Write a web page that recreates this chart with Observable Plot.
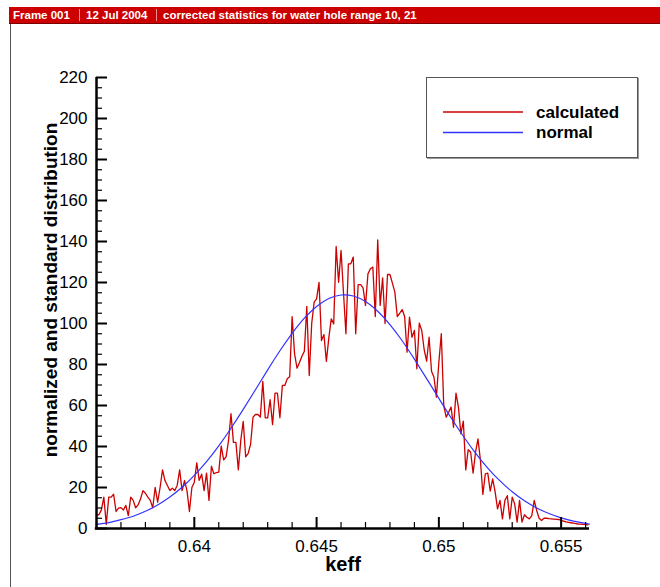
<!DOCTYPE html>
<html><head><meta charset="utf-8">
<script src="https://cdn.jsdelivr.net/npm/d3@7"></script>
<script src="https://cdn.jsdelivr.net/npm/@observablehq/plot@0.6"></script>
<style>
body{margin:0;background:#fff;width:660px;height:587px;overflow:hidden;position:relative;font-family:"Liberation Sans",Arial,sans-serif}
#chart{position:absolute;left:0;top:0}
#bar{position:absolute;left:9px;top:7px;width:651px;height:16px;background:#cc0000;border-bottom:1px solid #7a0000;color:#fff;font-weight:bold;font-size:11.5px;line-height:16px;white-space:nowrap}
#bar span{position:absolute;top:0}
.sep{position:absolute;top:2px;width:1px;height:12px;background:#ee9090}
#frameLine{position:absolute;left:10px;top:24px;width:1px;height:563px;background:#555}
#legend{position:absolute;left:426px;top:77px;width:210px;height:79px;border:1px solid #555;box-shadow:1px 1px 0 #999;background:#fff}
</style>
</head><body>
<div id="chart"></div>
<div id="frameLine"></div>
<div id="bar"></div>
<div id="legend"></div>
<script>
// ---- data ----
const titleParts = ["Frame 001", "12 Jul 2004", "corrected statistics for water hole range 10, 21"];
const xTitle = "keff";
const yTitle = "normalized and standard distribution";
const seriesNames = ["calculated", "normal"];
const seriesColors = ["#cc0000", "#3333ff"];

const xDomain = [0.636, 0.65616];
const yDomain = [0, 220];
const xMajor = [0.64, 0.645, 0.65, 0.655];
const xMinor = [0.636, 0.637, 0.638, 0.639, 0.641, 0.642, 0.643, 0.644, 0.646, 0.647, 0.648, 0.649, 0.651, 0.652, 0.653, 0.654, 0.656];
const yMajor = [0, 20, 40, 60, 80, 100, 120, 140, 160, 180, 200, 220];
const yMinor = [5, 10, 15, 25, 30, 35, 45, 50, 55, 65, 70, 75, 85, 90, 95, 105, 110, 115, 125, 130, 135, 145, 150, 155, 165, 170, 175, 185, 190, 195, 205, 210, 215];

const keff = [
0.6360,0.6361,0.6362,0.6363,0.6364,0.6365,0.6366,0.6367,0.6368,0.6369,
0.6370,0.6371,0.6372,0.6373,0.6374,0.6375,0.6376,0.6377,0.6378,0.6379,
0.6380,0.6381,0.6382,0.6383,0.6384,0.6385,0.6386,0.6387,0.6388,0.6389,
0.6390,0.6391,0.6392,0.6393,0.6394,0.6395,0.6396,0.6397,0.6398,0.6399,
0.6400,0.6401,0.6402,0.6403,0.6404,0.6405,0.6406,0.6407,0.6408,0.6409,
0.6410,0.6411,0.6412,0.6413,0.6414,0.6415,0.6416,0.6417,0.6418,0.6419,
0.6420,0.6421,0.6422,0.6423,0.6424,0.6425,0.6426,0.6427,0.6428,0.6429,
0.6430,0.6431,0.6432,0.6433,0.6434,0.6435,0.6436,0.6437,0.6438,0.6439,
0.6440,0.6441,0.6442,0.6443,0.6444,0.6445,0.6446,0.6447,0.6448,0.6449,
0.6450,0.6451,0.6452,0.6453,0.6454,0.6455,0.6456,0.6457,0.6458,0.6459,
0.6460,0.6461,0.6462,0.6463,0.6464,0.6465,0.6466,0.6467,0.6468,0.6469,
0.6470,0.6471,0.6472,0.6473,0.6474,0.6475,0.6476,0.6477,0.6478,0.6479,
0.6480,0.6481,0.6482,0.6483,0.6484,0.6485,0.6486,0.6487,0.6488,0.6489,
0.6490,0.6491,0.6492,0.6493,0.6494,0.6495,0.6496,0.6497,0.6498,0.6499,
0.6500,0.6501,0.6502,0.6503,0.6504,0.6505,0.6506,0.6507,0.6508,0.6509,
0.6510,0.6511,0.6512,0.6513,0.6514,0.6515,0.6516,0.6517,0.6518,0.6519,
0.6520,0.6521,0.6522,0.6523,0.6524,0.6525,0.6526,0.6527,0.6528,0.6529,
0.6530,0.6531,0.6532,0.6533,0.6534,0.6535,0.6536,0.6537,0.6538,0.6539,
0.6540,0.6541,0.6542,0.6543,0.6544,0.6545,0.6546,0.6547,0.6548,0.6549,
0.6550,0.6551,0.6552,0.6553,0.6554,0.6555,0.6556,0.6557,0.6558,0.6559,
0.6560,0.6561];

const calculated = [
6.7,6.7,9.1,15.3,2,15.3,15.3,16.7,8.3,9.9,
10.2,9,11.3,6.3,15.3,13.7,10.1,11.5,14.4,18.5,
17.2,15.3,13.7,10.1,20.1,12.8,20,28.6,23.4,21,
18.5,19.7,18.5,21,28.6,18.5,23.4,18.5,8.3,20,
22.6,32,23.5,26.5,18.5,27,13.7,30.4,26.7,27.3,
27.5,40.2,33.5,35,43,56,42,42,28.6,43,
52.3,35,36.5,41,54.3,55.6,55.6,54.3,71.8,54,
54,62.8,50.7,66,66,54,69.8,69.8,73,74,
103.4,85.2,78.2,81,84,86.5,108.3,74.6,100,110.4,
112,120.1,91.7,94.6,81.5,93,102.3,99.8,137.6,120.1,
135.6,115,95,129.1,129.1,132.4,95,119,119,117.4,
108.8,124.2,126.7,127.5,103.4,140.8,108.8,122.3,100,123.9,
123.9,119.7,115.3,103.4,105,106.8,103.4,86,103.1,93.3,
96.6,77.9,100.2,96.6,87.2,81.6,93.3,76.7,73.8,64.1,
81.1,95,60,54.3,56.7,59.2,49.4,66,59.2,46.2,
52.4,28.6,38.5,37.2,27,37.2,43.7,33.2,16.6,26.7,
27,18.2,24.2,18,9.6,13.7,4.7,13.7,16,4.7,
15.3,12,3.1,13.7,3.1,6.7,5.5,4.7,6.3,13.7,
8.8,5,3.9,5,5,4.8,4.7,4.6,4.5,4.4,
4.0,3.6,3.2,3.0,2.8,2.6,2.4,2.2,2.1,2.0,1.9,1.8];

const normalKeff = [0.6360,0.6365,0.6370,0.6375,0.6380,0.6385,0.6390,0.6395,0.6400,0.6405,
0.6410,0.6415,0.6420,0.6425,0.6430,0.6435,0.6440,0.6445,0.6450,0.6455,
0.6460,0.6465,0.6470,0.6475,0.6480,0.6485,0.6490,0.6495,0.6500,0.6505,
0.6510,0.6515,0.6520,0.6525,0.6530,0.6535,0.6540,0.6545,0.6550,0.6555,
0.6560,0.65616];
const normal = [2.0,2.9,4.3,6.0,8.4,11.5,15.4,20.1,25.9,32.6,
40.3,48.9,58.1,67.7,77.4,86.7,95.2,102.6,108.3,112.2,
113.9,113.4,110.7,106.0,99.5,91.6,82.6,73.1,63.5,54.0,
45.0,36.8,29.5,23.2,17.9,13.5,10.0,7.3,5.2,3.6,
2.5,2.2];

// ---- build ----
const calcData = keff.map((k, i) => ({keff: k, value: calculated[i]}));
const normData = normalKeff.map((k, i) => ({keff: k, value: normal[i]}));

const W = 660, H = 587, mL = 96, mR = 71, mT = 77, mB = 59;
const plotW = W - mL - mR, plotH = H - mT - mB;
const FONT = '"Liberation Sans", Arial, Helvetica, sans-serif';

const chart = Plot.plot({
  width: W, height: H,
  marginLeft: mL, marginRight: mR, marginTop: mT, marginBottom: mB,
  style: {fontFamily: FONT, fontSize: "17px", color: "#000", background: "transparent", overflow: "visible"},
  x: {domain: xDomain},
  y: {domain: yDomain},
  marks: [
    Plot.line(calcData, {x: "keff", y: "value", stroke: seriesColors[0], strokeWidth: 1.3}),
    Plot.line(normData, {x: "keff", y: "value", stroke: seriesColors[1], strokeWidth: 1.2, curve: "natural"}),
    Plot.ruleY([yDomain[0]], {stroke: "#000", strokeWidth: 2.5, insetLeft: -1.2}),
    Plot.ruleX([xDomain[0]], {stroke: "#000", strokeWidth: 2.5, insetBottom: -1.2}),
    Plot.tickX(xMajor, {x: d => d, insetTop: plotH - 11, stroke: "#000", strokeWidth: 2}),
    Plot.tickX(xMinor, {x: d => d, insetTop: plotH - 6, stroke: "#000", strokeWidth: 1.2}),
    Plot.tickY(yMajor, {y: d => d, insetRight: plotW - 11, stroke: "#000", strokeWidth: 2}),
    Plot.tickY(yMinor, {y: d => d, insetRight: plotW - 6, stroke: "#000", strokeWidth: 1.2}),
    Plot.axisX(xMajor, {tickSize: 0, tickPadding: 11, fontSize: 17, tickFormat: d => String(d), label: null}),
    Plot.axisY(yMajor, {tickSize: 0, tickPadding: 9, fontSize: 17, label: null}),
    Plot.text([xTitle], {frameAnchor: "bottom", textAnchor: "middle", lineAnchor: "middle", dy: 36, fontSize: 20, fontWeight: "bold", fill: "#000"}),
    Plot.text([yTitle], {frameAnchor: "left", textAnchor: "middle", lineAnchor: "middle", rotate: -90, dx: -46, dy: -13, fontSize: 19, fontWeight: "bold", fill: "#000"})
  ]
});
document.getElementById("chart").appendChild(chart);

// title bar
const bar = document.getElementById("bar");
const partLeft = [4, 77, 154];
const sepLeft = [70, 147];
titleParts.forEach((t, i) => {
  const s = document.createElement("span");
  s.textContent = t;
  s.style.left = partLeft[i] + "px";
  bar.appendChild(s);
});
sepLeft.forEach(x => {
  const d = document.createElement("div");
  d.className = "sep";
  d.style.left = x + "px";
  bar.appendChild(d);
});

// legend
const legend = d3.select("#legend").append("svg").attr("width", 210).attr("height", 79);
seriesNames.forEach((name, i) => {
  const y = 34 + i * 20.5;
  legend.append("line").attr("x1", 16).attr("x2", 96).attr("y1", y).attr("y2", y)
    .attr("stroke", seriesColors[i]).attr("stroke-width", 1.3);
  legend.append("text").attr("x", 109).attr("y", y + 5.5).text(name)
    .attr("font-family", FONT).attr("font-weight", "bold").attr("font-size", 17).attr("fill", "#000");
});
</script>
</body></html>
